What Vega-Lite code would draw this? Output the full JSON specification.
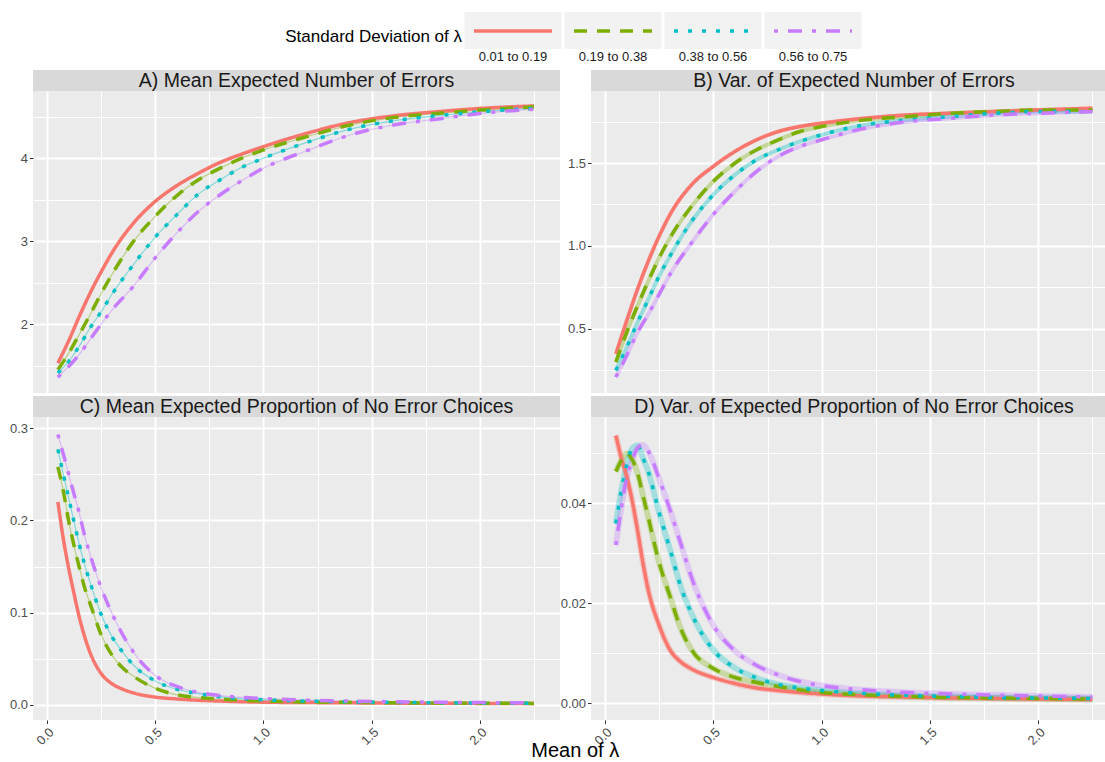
{
"$schema": "https://vega.github.io/schema/vega-lite/v6.json",
"padding": {"left": 9, "top": 0, "right": 0, "bottom": 0},
"background": "white",
"config": {
  "font": "Liberation Sans",
  "view": {"stroke": null},
  "axis": {"gridColor": "#FFFFFF", "domain": false, "tickColor": "#333333", "tickSize": 3.5, "tickWidth": 1, "labelColor": "#4D4D4D", "labelFontSize": 13, "labelPadding": 2, "minExtent": 0, "labelOverlap": false, "labelBound": false, "labelFlush": false}
},
"datasets": {
  "dA": [
    {"x":0.05,"s1":1.53,"s2":1.45,"s3":1.41,"s4":1.36},
    {"x":0.1,"s1":1.80,"s2":1.65,"s3":1.55,"s4":1.49},
    {"x":0.15,"s1":2.10,"s2":1.88,"s3":1.74,"s4":1.64},
    {"x":0.2,"s1":2.38,"s2":2.12,"s3":1.96,"s4":1.82},
    {"x":0.25,"s1":2.63,"s2":2.37,"s3":2.15,"s4":2.00},
    {"x":0.3,"s1":2.86,"s2":2.60,"s3":2.36,"s4":2.17},
    {"x":0.4,"s1":3.22,"s2":3.00,"s3":2.72,"s4":2.46},
    {"x":0.5,"s1":3.48,"s2":3.30,"s3":3.05,"s4":2.80},
    {"x":0.6,"s1":3.67,"s2":3.55,"s3":3.32,"s4":3.10},
    {"x":0.7,"s1":3.82,"s2":3.74,"s3":3.57,"s4":3.36},
    {"x":0.8,"s1":3.95,"s2":3.88,"s3":3.74,"s4":3.56},
    {"x":0.9,"s1":4.05,"s2":4.00,"s3":3.89,"s4":3.73},
    {"x":1.0,"s1":4.14,"s2":4.10,"s3":4.00,"s4":3.88},
    {"x":1.2,"s1":4.30,"s2":4.26,"s3":4.19,"s4":4.09},
    {"x":1.4,"s1":4.43,"s2":4.40,"s3":4.35,"s4":4.28},
    {"x":1.6,"s1":4.51,"s2":4.49,"s3":4.45,"s4":4.40},
    {"x":1.8,"s1":4.56,"s2":4.54,"s3":4.51,"s4":4.47},
    {"x":2.0,"s1":4.60,"s2":4.58,"s3":4.56,"s4":4.54},
    {"x":2.25,"s1":4.63,"s2":4.62,"s3":4.60,"s4":4.59}
  ],
  "dB": [
    {"x":0.05,"s1":0.35,"s2":0.30,"s3":0.25,"s4":0.21},
    {"x":0.1,"s1":0.55,"s2":0.48,"s3":0.39,"s4":0.34},
    {"x":0.15,"s1":0.74,"s2":0.64,"s3":0.54,"s4":0.48},
    {"x":0.2,"s1":0.91,"s2":0.79,"s3":0.68,"s4":0.59},
    {"x":0.25,"s1":1.06,"s2":0.93,"s3":0.82,"s4":0.71},
    {"x":0.3,"s1":1.19,"s2":1.05,"s3":0.94,"s4":0.83},
    {"x":0.4,"s1":1.37,"s2":1.24,"s3":1.15,"s4":1.02},
    {"x":0.5,"s1":1.48,"s2":1.39,"s3":1.31,"s4":1.19},
    {"x":0.6,"s1":1.57,"s2":1.50,"s3":1.43,"s4":1.33},
    {"x":0.7,"s1":1.64,"s2":1.58,"s3":1.52,"s4":1.45},
    {"x":0.8,"s1":1.69,"s2":1.64,"s3":1.58,"s4":1.54},
    {"x":0.9,"s1":1.72,"s2":1.69,"s3":1.63,"s4":1.60},
    {"x":1.0,"s1":1.74,"s2":1.72,"s3":1.67,"s4":1.64},
    {"x":1.2,"s1":1.77,"s2":1.76,"s3":1.73,"s4":1.71},
    {"x":1.4,"s1":1.79,"s2":1.78,"s3":1.76,"s4":1.75},
    {"x":1.6,"s1":1.80,"s2":1.80,"s3":1.78,"s4":1.77},
    {"x":1.8,"s1":1.81,"s2":1.81,"s3":1.80,"s4":1.79},
    {"x":2.0,"s1":1.82,"s2":1.82,"s3":1.81,"s4":1.80},
    {"x":2.25,"s1":1.83,"s2":1.82,"s3":1.81,"s4":1.81}
  ],
  "dC": [
    {"x":0.05,"s1":0.220,"s2":0.258,"s3":0.277,"s4":0.293},
    {"x":0.075,"s1":0.180,"s2":0.232,"s3":0.250,"s4":0.272},
    {"x":0.1,"s1":0.148,"s2":0.199,"s3":0.224,"s4":0.250},
    {"x":0.125,"s1":0.120,"s2":0.172,"s3":0.198,"s4":0.228},
    {"x":0.15,"s1":0.094,"s2":0.148,"s3":0.173,"s4":0.207},
    {"x":0.175,"s1":0.073,"s2":0.126,"s3":0.151,"s4":0.182},
    {"x":0.2,"s1":0.056,"s2":0.109,"s3":0.132,"s4":0.162},
    {"x":0.25,"s1":0.034,"s2":0.076,"s3":0.098,"s4":0.127},
    {"x":0.3,"s1":0.023,"s2":0.054,"s3":0.074,"s4":0.099},
    {"x":0.35,"s1":0.017,"s2":0.040,"s3":0.057,"s4":0.076},
    {"x":0.4,"s1":0.013,"s2":0.031,"s3":0.043,"s4":0.057},
    {"x":0.5,"s1":0.0085,"s2":0.018,"s3":0.026,"s4":0.032},
    {"x":0.6,"s1":0.0065,"s2":0.011,"s3":0.017,"s4":0.020},
    {"x":0.7,"s1":0.0051,"s2":0.008,"s3":0.0122,"s4":0.0135},
    {"x":0.8,"s1":0.0042,"s2":0.0062,"s3":0.0088,"s4":0.0102},
    {"x":0.9,"s1":0.0035,"s2":0.005,"s3":0.0068,"s4":0.0082},
    {"x":1.0,"s1":0.003,"s2":0.0042,"s3":0.0056,"s4":0.007},
    {"x":1.2,"s1":0.0026,"s2":0.0033,"s3":0.0042,"s4":0.0052},
    {"x":1.4,"s1":0.0023,"s2":0.0028,"s3":0.0034,"s4":0.0042},
    {"x":1.6,"s1":0.002,"s2":0.0024,"s3":0.0028,"s4":0.0035},
    {"x":1.8,"s1":0.0018,"s2":0.0021,"s3":0.0024,"s4":0.003},
    {"x":2.0,"s1":0.0017,"s2":0.0019,"s3":0.0021,"s4":0.0026},
    {"x":2.25,"s1":0.0015,"s2":0.0017,"s3":0.0019,"s4":0.0023}
  ],
  "dD": [
    {"x":0.05,"s1":0.0535,"s2":0.0463,"s3":0.0359,"s4":0.0316},
    {"x":0.075,"s1":0.0490,"s2":0.0485,"s3":0.0425,"s4":0.0390},
    {"x":0.1,"s1":0.0453,"s2":0.0499,"s3":0.0476,"s4":0.0450},
    {"x":0.125,"s1":0.0405,"s2":0.0487,"s3":0.0509,"s4":0.0485},
    {"x":0.15,"s1":0.0345,"s2":0.0460,"s3":0.0515,"s4":0.0510},
    {"x":0.175,"s1":0.0280,"s2":0.0415,"s3":0.0490,"s4":0.0516},
    {"x":0.2,"s1":0.0225,"s2":0.0370,"s3":0.0462,"s4":0.0503},
    {"x":0.25,"s1":0.0155,"s2":0.0280,"s3":0.0380,"s4":0.0448},
    {"x":0.3,"s1":0.0106,"s2":0.0213,"s3":0.0307,"s4":0.0386},
    {"x":0.35,"s1":0.0082,"s2":0.0148,"s3":0.0232,"s4":0.0318},
    {"x":0.4,"s1":0.0068,"s2":0.0106,"s3":0.0178,"s4":0.0250},
    {"x":0.5,"s1":0.0051,"s2":0.0069,"s3":0.0106,"s4":0.0155},
    {"x":0.6,"s1":0.0039,"s2":0.0051,"s3":0.0070,"s4":0.0104},
    {"x":0.7,"s1":0.0030,"s2":0.0041,"s3":0.0050,"s4":0.0075},
    {"x":0.8,"s1":0.0025,"s2":0.0033,"s3":0.0037,"s4":0.0056},
    {"x":0.9,"s1":0.0021,"s2":0.0026,"s3":0.0030,"s4":0.0043},
    {"x":1.0,"s1":0.0018,"s2":0.0021,"s3":0.0025,"s4":0.0035},
    {"x":1.2,"s1":0.0014,"s2":0.0016,"s3":0.0019,"s4":0.0026},
    {"x":1.4,"s1":0.0012,"s2":0.0013,"s3":0.0015,"s4":0.0021},
    {"x":1.6,"s1":0.0010,"s2":0.0011,"s3":0.0013,"s4":0.0018},
    {"x":1.8,"s1":0.0009,"s2":0.0010,"s3":0.0011,"s4":0.0016},
    {"x":2.0,"s1":0.0008,"s2":0.0009,"s3":0.0010,"s4":0.0014},
    {"x":2.25,"s1":0.0007,"s2":0.0008,"s3":0.0009,"s4":0.0012}
  ],
  "keys": [
    {"sd":"s1","lab":"0.01 to 0.19"},
    {"sd":"s2","lab":"0.19 to 0.38"},
    {"sd":"s3","lab":"0.38 to 0.56"},
    {"sd":"s4","lab":"0.56 to 0.75"}
  ]
},
"title": {"text": "Mean of λ", "orient": "bottom", "anchor": "middle", "frame": "bounds", "fontSize": 20, "fontWeight": "normal", "color": "#000000", "offset": -6, "dx": 18},
"spacing": 6,
"vconcat": [
  {"hconcat": [
    {"width": 430, "height": 64,
     "data": {"values": [{"t": "Standard Deviation of λ"}]},
     "mark": {"type": "text", "align": "right", "baseline": "middle", "fontSize": 17, "color": "#000000", "dx": -1},
     "encoding": {
       "text": {"field": "t"},
       "x": {"datum": 1, "type": "quantitative", "scale": {"domain": [0, 1]}, "axis": null},
       "y": {"datum": 0.42, "type": "quantitative", "scale": {"domain": [0, 1]}, "axis": null}
     }},
    {"width": 400, "height": 64,
     "data": {"name": "keys"},
     "layer": [
       {"mark": {"type": "tick", "orient": "horizontal", "color": "#F2F2F2", "opacity": 1, "size": 97, "thickness": 37},
        "encoding": {
          "x": {"field": "sd", "type": "nominal", "scale": {"type": "point", "padding": 0.5}, "axis": null},
          "y": {"datum": 0.523, "type": "quantitative", "scale": {"domain": [0, 1]}, "axis": null}
        }},
       {"mark": {"type": "rule", "strokeWidth": 3.5, "strokeCap": "butt", "xOffset": -39, "x2Offset": 39},
        "encoding": {
          "x": {"field": "sd", "type": "nominal", "scale": {"type": "point", "padding": 0.5}, "axis": null},
          "x2": {"field": "sd"},
          "y": {"datum": 0.516, "type": "quantitative", "scale": {"domain": [0, 1]}, "axis": null},
          "color": {"field": "sd", "type": "nominal", "scale": {"domain": ["s1","s2","s3","s4"], "range": ["#F8766D","#7CAE00","#00BFC4","#C77CFF"]}, "legend": null},
          "strokeDash": {"field": "sd", "type": "nominal", "scale": {"domain": ["s1","s2","s3","s4"], "range": [[1,0],[13,10],[4,10],[4,10,14,10]]}, "legend": null}
        }},
       {"mark": {"type": "text", "fontSize": 13, "color": "#1A1A1A", "baseline": "middle"},
        "encoding": {
          "x": {"field": "sd", "type": "nominal", "scale": {"type": "point", "padding": 0.5}, "axis": null},
          "y": {"datum": 0.11, "type": "quantitative", "scale": {"domain": [0, 1]}, "axis": null},
          "text": {"field": "lab"}
        }}
     ]}
  ], "spacing": 0},
  {"hconcat": [
    {"vconcat": [
      {"vconcat": [
        {"width": 527, "height": 21, "view": {"fill": "#D9D9D9", "stroke": null},
         "data": {"values": [{"t": "A) Mean Expected Number of Errors"}]},
         "mark": {"type": "text", "fontSize": 19.5, "color": "#1A1A1A", "baseline": "middle"},
         "encoding": {"text": {"field": "t"}}},
        {"width": 527, "height": 302, "view": {"fill": "#EBEBEB", "stroke": null},
         "data": {"name": "dA"},
         "transform": [{"fold": ["s1","s2","s3","s4"], "as": ["sd","v"]}],
         "layer": [
           {"mark": {"type": "line", "interpolate": "monotone", "strokeWidth": 1.2, "opacity": 0.45},
            "encoding": {
              "x": {"field": "x", "type": "quantitative", "scale": {"domain": [-0.065, 2.37], "nice": false, "zero": false}, "axis": {"orient": "bottom", "values": [0.25,0.75,1.25,1.75,2.25], "grid": true, "gridWidth": 1, "labels": false, "ticks": false, "title": null}},
              "y": {"field": "v", "type": "quantitative", "scale": {"domain": [1.17, 4.81], "nice": false, "zero": false}, "axis": {"orient": "left", "values": [1.5,2.5,3.5,4.5], "grid": true, "gridWidth": 1, "labels": false, "ticks": false, "title": null}},
              "color": {"field": "sd", "type": "nominal", "scale": {"domain": ["s1","s2","s3","s4"], "range": ["#F8766D","#7CAE00","#00BFC4","#C77CFF"]}, "legend": null}
            }},
           {"mark": {"type": "line", "interpolate": "monotone", "strokeWidth": 3.5, "strokeCap": "butt"},
            "encoding": {
              "x": {"field": "x", "type": "quantitative", "scale": {"domain": [-0.065, 2.37], "nice": false, "zero": false}, "axis": {"orient": "bottom", "values": [0,0.5,1,1.5,2], "grid": true, "gridWidth": 2, "labels": false, "ticks": false, "title": null}},
              "y": {"field": "v", "type": "quantitative", "scale": {"domain": [1.17, 4.81], "nice": false, "zero": false}, "axis": {"orient": "left", "values": [2,3,4], "format": "d", "grid": true, "gridWidth": 2, "title": null}},
              "color": {"field": "sd", "type": "nominal", "scale": {"domain": ["s1","s2","s3","s4"], "range": ["#F8766D","#7CAE00","#00BFC4","#C77CFF"]}, "legend": null},
              "strokeDash": {"field": "sd", "type": "nominal", "scale": {"domain": ["s1","s2","s3","s4"], "range": [[1,0],[13,10],[4,10],[4,10,14,10]]}, "legend": null}
            }}
         ],
         "resolve": {"axis": {"x": "independent", "y": "independent"}}}
      ], "spacing": 0},
      {"vconcat": [
        {"width": 527, "height": 21, "view": {"fill": "#D9D9D9", "stroke": null},
         "data": {"values": [{"t": "C) Mean Expected Proportion of No Error Choices"}]},
         "mark": {"type": "text", "fontSize": 19.5, "color": "#1A1A1A", "baseline": "middle"},
         "encoding": {"text": {"field": "t"}}},
        {"width": 527, "height": 303, "view": {"fill": "#EBEBEB", "stroke": null},
         "data": {"name": "dC"},
         "transform": [{"fold": ["s1","s2","s3","s4"], "as": ["sd","v"]}],
         "layer": [
           {"mark": {"type": "line", "interpolate": "monotone", "strokeWidth": 1.2, "opacity": 0.45},
            "encoding": {
              "x": {"field": "x", "type": "quantitative", "scale": {"domain": [-0.065, 2.37], "nice": false, "zero": false}, "axis": {"orient": "bottom", "values": [0.25,0.75,1.25,1.75,2.25], "grid": true, "gridWidth": 1, "labels": false, "ticks": false, "title": null}},
              "y": {"field": "v", "type": "quantitative", "scale": {"domain": [-0.0163, 0.312], "nice": false, "zero": false}, "axis": {"orient": "left", "values": [0.05,0.15,0.25], "grid": true, "gridWidth": 1, "labels": false, "ticks": false, "title": null}},
              "color": {"field": "sd", "type": "nominal", "scale": {"domain": ["s1","s2","s3","s4"], "range": ["#F8766D","#7CAE00","#00BFC4","#C77CFF"]}, "legend": null}
            }},
           {"mark": {"type": "line", "interpolate": "monotone", "strokeWidth": 3.5, "strokeCap": "butt"},
            "encoding": {
              "x": {"field": "x", "type": "quantitative", "scale": {"domain": [-0.065, 2.37], "nice": false, "zero": false}, "axis": {"orient": "bottom", "values": [0,0.5,1,1.5,2], "format": ".1f", "grid": true, "gridWidth": 2, "labelAngle": -45, "labelAlign": "right", "labelBaseline": "top", "title": null}},
              "y": {"field": "v", "type": "quantitative", "scale": {"domain": [-0.0163, 0.312], "nice": false, "zero": false}, "axis": {"orient": "left", "values": [0,0.1,0.2,0.3], "format": ".1f", "grid": true, "gridWidth": 2, "title": null}},
              "color": {"field": "sd", "type": "nominal", "scale": {"domain": ["s1","s2","s3","s4"], "range": ["#F8766D","#7CAE00","#00BFC4","#C77CFF"]}, "legend": null},
              "strokeDash": {"field": "sd", "type": "nominal", "scale": {"domain": ["s1","s2","s3","s4"], "range": [[1,0],[13,10],[4,10],[4,10,14,10]]}, "legend": null}
            }}
         ],
         "resolve": {"axis": {"x": "independent", "y": "independent"}}}
      ], "spacing": 0}
    ], "spacing": 3},
    {"vconcat": [
      {"vconcat": [
        {"width": 514, "height": 21, "view": {"fill": "#D9D9D9", "stroke": null},
         "data": {"values": [{"t": "B) Var. of Expected Number of Errors"}]},
         "mark": {"type": "text", "fontSize": 19.5, "color": "#1A1A1A", "baseline": "middle", "dx": 6},
         "encoding": {"text": {"field": "t"}}},
        {"width": 514, "height": 302, "view": {"fill": "#EBEBEB", "stroke": null},
         "data": {"name": "dB"},
         "transform": [{"fold": ["s1","s2","s3","s4"], "as": ["sd","v"]}],
         "layer": [
           {"mark": {"type": "line", "interpolate": "monotone", "strokeWidth": 4, "opacity": 0.35},
            "encoding": {
              "x": {"field": "x", "type": "quantitative", "scale": {"domain": [-0.065, 2.308], "nice": false, "zero": false}, "axis": {"orient": "bottom", "values": [0.25,0.75,1.25,1.75,2.25], "grid": true, "gridWidth": 1, "labels": false, "ticks": false, "title": null}},
              "y": {"field": "v", "type": "quantitative", "scale": {"domain": [0.114, 1.934], "nice": false, "zero": false}, "axis": {"orient": "left", "values": [0.25,0.75,1.25,1.75], "grid": true, "gridWidth": 1, "labels": false, "ticks": false, "title": null}},
              "color": {"field": "sd", "type": "nominal", "scale": {"domain": ["s1","s2","s3","s4"], "range": ["#F8766D","#7CAE00","#00BFC4","#C77CFF"]}, "legend": null}
            }},
           {"mark": {"type": "line", "interpolate": "monotone", "strokeWidth": 3.5, "strokeCap": "butt"},
            "encoding": {
              "x": {"field": "x", "type": "quantitative", "scale": {"domain": [-0.065, 2.308], "nice": false, "zero": false}, "axis": {"orient": "bottom", "values": [0,0.5,1,1.5,2], "grid": true, "gridWidth": 2, "labels": false, "ticks": false, "title": null}},
              "y": {"field": "v", "type": "quantitative", "scale": {"domain": [0.114, 1.934], "nice": false, "zero": false}, "axis": {"orient": "left", "values": [0.5,1,1.5], "format": ".1f", "grid": true, "gridWidth": 2, "title": null}},
              "color": {"field": "sd", "type": "nominal", "scale": {"domain": ["s1","s2","s3","s4"], "range": ["#F8766D","#7CAE00","#00BFC4","#C77CFF"]}, "legend": null},
              "strokeDash": {"field": "sd", "type": "nominal", "scale": {"domain": ["s1","s2","s3","s4"], "range": [[1,0],[13,10],[4,10],[4,10,14,10]]}, "legend": null}
            }}
         ],
         "resolve": {"axis": {"x": "independent", "y": "independent"}}}
      ], "spacing": 0},
      {"vconcat": [
        {"width": 514, "height": 21, "view": {"fill": "#D9D9D9", "stroke": null},
         "data": {"values": [{"t": "D) Var. of Expected Proportion of No Error Choices"}]},
         "mark": {"type": "text", "fontSize": 19.5, "color": "#1A1A1A", "baseline": "middle", "dx": 6},
         "encoding": {"text": {"field": "t"}}},
        {"width": 514, "height": 303, "view": {"fill": "#EBEBEB", "stroke": null},
         "data": {"name": "dD"},
         "transform": [{"fold": ["s1","s2","s3","s4"], "as": ["sd","v"]}],
         "layer": [
           {"mark": {"type": "line", "interpolate": "monotone", "strokeWidth": 6, "opacity": 0.3},
            "encoding": {
              "x": {"field": "x", "type": "quantitative", "scale": {"domain": [-0.065, 2.308], "nice": false, "zero": false}, "axis": {"orient": "bottom", "values": [0.25,0.75,1.25,1.75,2.25], "grid": true, "gridWidth": 1, "labels": false, "ticks": false, "title": null}},
              "y": {"field": "v", "type": "quantitative", "scale": {"domain": [-0.0034, 0.0572], "nice": false, "zero": false}, "axis": {"orient": "left", "values": [0.01,0.03,0.05], "grid": true, "gridWidth": 1, "labels": false, "ticks": false, "title": null}},
              "color": {"field": "sd", "type": "nominal", "scale": {"domain": ["s1","s2","s3","s4"], "range": ["#F8766D","#7CAE00","#00BFC4","#C77CFF"]}, "legend": null}
            }},
           {"mark": {"type": "line", "interpolate": "monotone", "strokeWidth": 3.5, "strokeCap": "butt"},
            "encoding": {
              "x": {"field": "x", "type": "quantitative", "scale": {"domain": [-0.065, 2.308], "nice": false, "zero": false}, "axis": {"orient": "bottom", "values": [0,0.5,1,1.5,2], "format": ".1f", "grid": true, "gridWidth": 2, "labelAngle": -45, "labelAlign": "right", "labelBaseline": "top", "title": null}},
              "y": {"field": "v", "type": "quantitative", "scale": {"domain": [-0.0034, 0.0572], "nice": false, "zero": false}, "axis": {"orient": "left", "values": [0,0.02,0.04], "format": ".2f", "grid": true, "gridWidth": 2, "title": null}},
              "color": {"field": "sd", "type": "nominal", "scale": {"domain": ["s1","s2","s3","s4"], "range": ["#F8766D","#7CAE00","#00BFC4","#C77CFF"]}, "legend": null},
              "strokeDash": {"field": "sd", "type": "nominal", "scale": {"domain": ["s1","s2","s3","s4"], "range": [[1,0],[13,10],[4,10],[4,10,14,10]]}, "legend": null}
            }}
         ],
         "resolve": {"axis": {"x": "independent", "y": "independent"}}}
      ], "spacing": 0}
    ], "spacing": 3}
  ], "spacing": 0}
]
}
